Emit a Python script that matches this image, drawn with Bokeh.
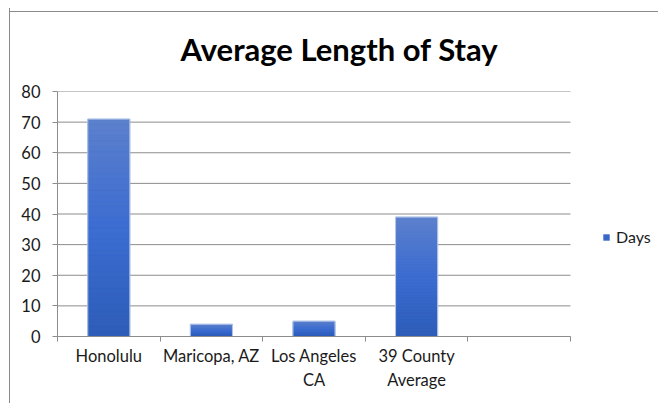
import numpy as np
from bokeh.plotting import figure
from bokeh.models import FixedTicker, Range1d, Legend, LegendItem, ColumnDataSource
from bokeh.embed import file_html
from bokeh.resources import INLINE

# ---- data ----
categories = ["Honolulu", "Maricopa, AZ", "Los Angeles\nCA", "39 County\nAverage", ""]
days = [71, 4, 5, 39]
y_ticks = [0, 10, 20, 30, 40, 50, 60, 70, 80]
series_name = "Days"
chart_title = "Average Length of Stay"

FONT = "Lato"
n_slots = len(categories)
centers = [i + 0.5 for i in range(n_slots)]
bar_x = centers[:len(days)]
BAR_W = 0.41

# frame extends to the right edge so the legend can sit inside it;
# the category area occupies 513 of the 602 frame pixels
PLOT_PX, FRAME_PX = 513, 602
x_end = n_slots * FRAME_PX / PLOT_PX

p = figure(width=649, height=395, output_backend="svg", toolbar_location=None,
           x_range=Range1d(0, x_end), y_range=Range1d(y_ticks[0], y_ticks[-1]),
           min_border_left=47, min_border_right=0, min_border_top=83, min_border_bottom=67,
           title=chart_title)
p.margin = (8, 0, 0, 9)
p.styles = {
    "border-left": "1px solid #8a8a8a",
    "background": "linear-gradient(#8a8a8a, #8a8a8a) 0 3px / 100% 1px no-repeat, white",
}
p.outline_line_color = None
p.background_fill_color = "white"
p.border_fill_color = None

p.title.align = "left"
p.title.vertical_align = "top"
p.title.text_font = FONT
p.title.text_font_size = "31px"
p.title.text_font_style = "bold"
p.title.text_color = "black"
p.title.offset = 123
p.title.standoff = 43

# horizontal gridlines, limited to the category area
p.xgrid.grid_line_color = None
p.ygrid.grid_line_color = None
p.segment(x0=[0] * len(y_ticks), x1=[n_slots] * len(y_ticks), y0=y_ticks, y1=y_ticks,
          line_color="#8c8c8c", line_width=1)

# base solid bars (used for legend)
src = ColumnDataSource(dict(x=bar_x, top=days))
base = p.vbar(x="x", top="top", width=BAR_W, bottom=0, source=src,
              fill_color="#3a68c9", line_color=None)

# gradient slices derived from data values
def hex2rgb(h):
    h = h.lstrip("#")
    return np.array([int(h[i:i + 2], 16) for i in (0, 2, 4)], float)

stops = [(0.0, hex2rgb("#2d5cb8")), (0.5, hex2rgb("#3c6dd1")), (1.0, hex2rgb("#5c80cc"))]

def grad(t):
    for (t0, c0), (t1, c1) in zip(stops[:-1], stops[1:]):
        if t <= t1:
            f = (t - t0) / (t1 - t0)
            c = c0 + (c1 - c0) * f
            return "#%02x%02x%02x" % tuple(int(round(v)) for v in c)
    return "#5c80cc"

N = 40
gx, gb, gt, gc = [], [], [], []
for xv, v in zip(bar_x, days):
    for k in range(N):
        gx.append(xv)
        gb.append(v * k / N)
        gt.append(v * (k + 1) / N)
        gc.append(grad((k + 0.5) / N))
p.vbar(x=gx, bottom=gb, top=gt, width=BAR_W, fill_color=gc, line_color=gc, line_width=0.5)
p.vbar(x="x", top="top", width=BAR_W, bottom=0, source=src,
       fill_color=None, line_color="#b9c9ea", line_width=1)

# axes
ya = p.yaxis[0]
ya.ticker = FixedTicker(ticks=y_ticks)
ya.axis_line_color = "#8c8c8c"
ya.major_tick_line_color = "#8c8c8c"
ya.major_tick_out = 5
ya.major_tick_in = 0
ya.minor_tick_line_color = None
ya.major_label_text_font = FONT
ya.major_label_text_font_size = "16.5px"
ya.major_label_text_color = "#1a1a1a"
ya.major_label_standoff = 12

xa = p.xaxis[0]
xa.ticker = FixedTicker(ticks=centers, minor_ticks=list(range(n_slots + 1)))
xa.major_label_overrides = {c: lab for c, lab in zip(centers, categories)}
xa.bounds = (0, n_slots)
xa.axis_line_color = "#8c8c8c"
xa.major_tick_out = 0
xa.major_tick_in = 0
xa.minor_tick_line_color = "#8c8c8c"
xa.minor_tick_out = 5
xa.minor_tick_in = 0
xa.major_label_text_font = FONT
xa.major_label_text_font_size = "16.5px"
xa.major_label_text_color = "#1a1a1a"
xa.major_label_standoff = 4

legend = Legend(items=[LegendItem(label=series_name, renderers=[base])],
                location=(545, 90), border_line_color=None, background_fill_alpha=0,
                padding=0, margin=0, glyph_width=8, glyph_height=8, label_height=16,
                label_text_font=FONT, label_text_font_size="16px", label_standoff=6,
                label_text_color="#1a1a1a")
p.add_layout(legend, "center")

open("out.html", "w").write(file_html(p, INLINE))
